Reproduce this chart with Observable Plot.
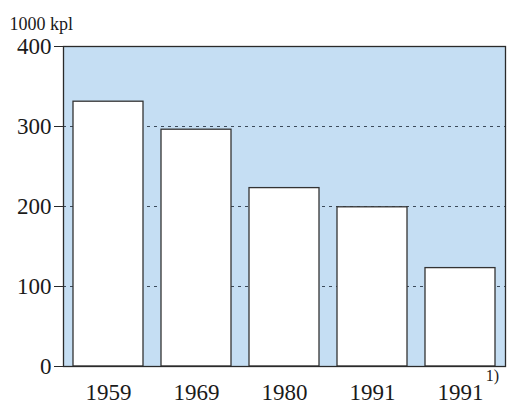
<!DOCTYPE html>
<html>
<head>
<meta charset="utf-8">
<script src="https://cdn.jsdelivr.net/npm/d3@7"></script>
<script src="https://cdn.jsdelivr.net/npm/@observablehq/plot@0.6"></script>
<style>
  html, body { margin: 0; padding: 0; background: #fff; }
  #chart { width: 513px; height: 404px; }
</style>
</head>
<body>
<div id="chart"></div>
<script>
const categories = ["1959", "1969", "1980", "1991", "1991 1)"];
const tickLabels = ["1959", "1969", "1980", "1991", "1991"];
const values = [331, 296, 223, 199, 123];
const yTicks = [0, 100, 200, 300, 400];
const gridValues = [100, 200, 300];
const unitLabel = "1000 kpl";
const footnoteMark = "1)";

const data = categories.map((c, i) => ({category: c, value: values[i]}));
const labelOf = new Map(categories.map((c, i) => [c, tickLabels[i]]));

const chart = Plot.plot({
  width: 513,
  height: 404,
  marginLeft: 63,
  marginRight: 8,
  marginTop: 46,
  marginBottom: 38,
  style: {fontFamily: "'Liberation Serif', 'Times New Roman', serif", background: "#fff", color: "#1a1a1a"},
  x: {domain: categories, paddingInner: 0.2, paddingOuter: 0.1, label: null},
  y: {domain: [0, 400], label: null},
  marks: [
    Plot.frame({fill: "#c5def3", stroke: "none"}),
    Plot.ruleY(gridValues, {stroke: "#3c4a5a", strokeWidth: 1.2, strokeDasharray: "3,4"}),
    Plot.barY(data, {x: "category", y: "value", fill: "#fff", stroke: "#333", strokeWidth: 1.3}),
    Plot.frame({stroke: "#2a2a2a", strokeWidth: 1.3}),
    Plot.axisY({ticks: yTicks, tickSize: 9, tickPadding: 3, fontSize: 23, label: null, stroke: "#2a2a2a"}),
    Plot.axisX({tickSize: 0, tickPadding: 17, fontSize: 23, label: null, tickFormat: d => labelOf.get(d)}),
    Plot.text([footnoteMark], {x: () => categories[4], frameAnchor: "bottom", dx: 32, dy: 14, fontSize: 16, fill: "#1a1a1a"}),
    Plot.text([unitLabel], {frameAnchor: "top-left", dx: -54, dy: -29, textAnchor: "start", fontSize: 18, fill: "#1a1a1a", letterSpacing: "0.5px"})
  ]
});
document.getElementById("chart").appendChild(chart);
</script>
</body>
</html>
